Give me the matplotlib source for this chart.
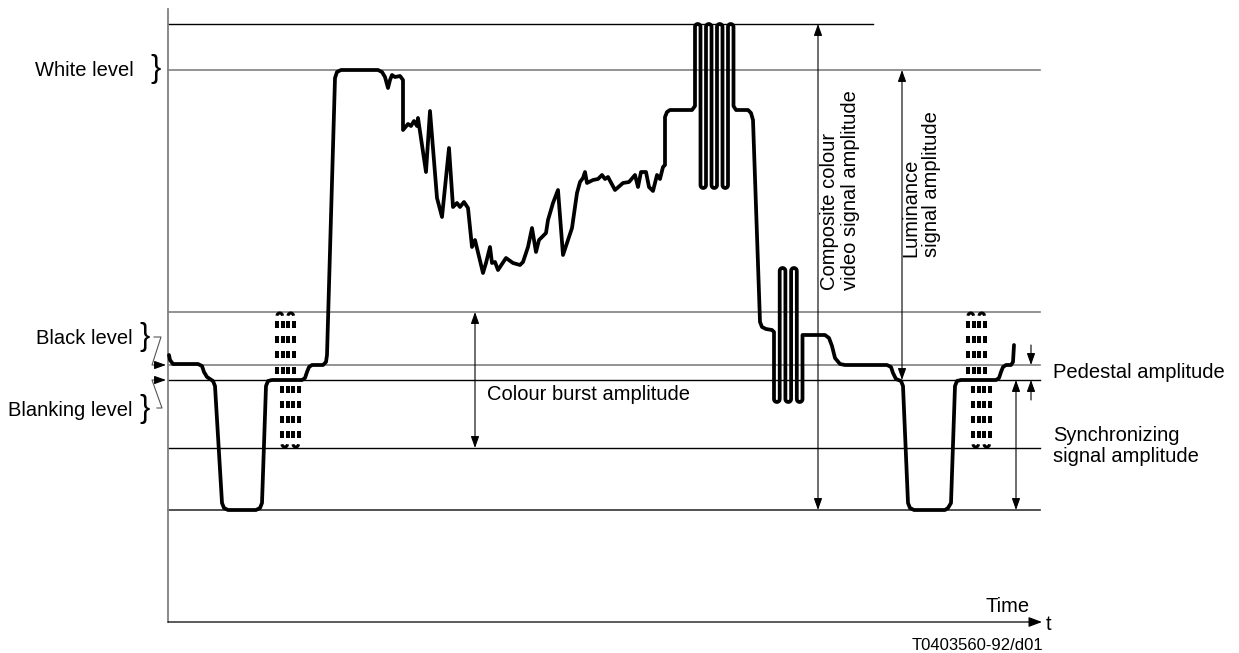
import numpy as np
import matplotlib.pyplot as plt

plt.rcParams['font.family'] = ['Liberation Sans', 'DejaVu Sans']

# signal levels (drawing units, y grows downward)
level_y = [24, 70, 312, 365, 380, 448, 510]
level_x_end = [873, 1040, 1040, 1040, 1040, 1040, 1040]
level_color = ['black', '#808080', '#808080', '#808080', 'black', 'black', '#333333']

# luminance trace: from line start up to the first chroma burst
seg1_t = [169, 170, 173, 198, 202, 204, 207, 213, 215, 222, 224, 228, 256, 260, 262, 266,
          268, 272, 302, 305, 307, 309, 312, 323, 326, 327, 335, 337, 341, 378, 382, 385,
          388, 390, 392, 395, 400, 403, 403, 408, 411, 414, 417, 418, 426, 430, 437, 442,
          449, 453, 457, 460, 464, 468, 472, 475, 483, 486, 490, 492, 495, 498, 506, 513,
          520, 523, 528, 532, 536, 539, 546, 548, 553, 558, 563, 572, 577, 580, 583, 585,
          587, 593, 598, 602, 605, 608, 615, 623, 629, 635, 638, 641, 646, 649, 653, 657,
          660, 663, 665, 665, 667, 670, 692]
seg1_v = [355, 360, 364, 364, 366, 372, 377, 381, 386, 503, 508, 510, 510, 508, 503, 386,
          381, 380, 380, 378, 372, 367, 365, 365, 362, 355, 78, 72, 70, 70, 72, 77,
          88, 80, 75, 77, 76, 80, 130, 124, 126, 121, 126, 118, 172, 111, 198, 217,
          148, 207, 203, 207, 202, 208, 247, 240, 273, 263, 247, 263, 262, 270, 258, 263,
          265, 262, 247, 228, 252, 240, 233, 220, 203, 190, 255, 228, 193, 182, 178, 172,
          183, 180, 179, 175, 179, 177, 190, 183, 182, 175, 187, 172, 172, 187, 191, 175,
          179, 167, 165, 117, 112, 110, 110]

# first chroma burst (legs of the hairpin oscillation)
burst1_legs = [695, 700.5, 706, 711.5, 717, 722.5, 728, 733.5]
burst1_ends = [24, 188]

seg2_t = [736, 748, 751, 753, 760, 762, 766, 772]
seg2_v = [110, 110, 113, 120, 322, 327, 329, 330]

burst2_legs = [774, 779.7, 785.4, 791.1, 796.8, 802.5]
burst2_ends = [402, 268]

seg3_t = [805, 825, 829, 832, 835, 840, 845, 887, 891, 893, 896, 901, 903, 908, 910, 914,
          945, 948, 951, 955, 957, 961, 996, 999, 1001, 1003, 1006, 1011, 1013, 1014]
seg3_v = [335, 335, 338, 346, 358, 364, 365, 365, 367, 373, 379, 381, 386, 503, 508, 510,
          510, 508, 503, 386, 381, 380, 380, 378, 372, 367, 365, 365, 362, 345]

# colour burst in the back porch (dashed)
cb_x0 = [275, 966]
cb_upper_dx = [2, 7.5, 13, 18.5]
cb_lower_dx = [7, 12.5, 18, 23.5]
cb_upper_rows = [324.5, 339.5, 354.5, 370.5]
cb_lower_rows = [389.5, 404.5, 419.5, 434.5]


def hairpin(legs, ends, y_start, y_end):
    xs, ys = [legs[0]], [y_start]
    for i in range(len(legs) - 1):
        e = ends[i % 2]
        other = ends[(i + 1) % 2]
        d = -1 if e < other else 1
        r = (legs[i + 1] - legs[i]) / 2
        cx = (legs[i] + legs[i + 1]) / 2
        cy = e - d * r
        th = np.linspace(np.pi, 0, 9)
        xs.extend(cx + r * np.cos(th))
        ys.extend(cy + d * r * np.sin(th))
    xs.append(legs[-1])
    ys.append(y_end)
    return xs, ys


def arc(ax, x_left, x_right, y_tip, up):
    r = (x_right - x_left) / 2
    cx = (x_left + x_right) / 2
    d = -1 if up else 1
    th = np.linspace(np.pi, 0, 9)
    ax.plot(cx + r * np.cos(th), y_tip - d * r + d * r * np.sin(th),
            color='black', lw=2.2, solid_capstyle='butt')


fig = plt.figure(figsize=(12.39, 6.53), dpi=100)
ax = fig.add_axes([0, 0, 1, 1])
ax.set_xlim(0, 1239)
ax.set_ylim(653, 0)
ax.axis('off')

# level lines
for y, xe, c in zip(level_y, level_x_end, level_color):
    ax.plot([168, xe], [y, y], color=c, lw=1.2 if c != 'black' else 1.0)

# axes
ax.plot([168, 168], [9, 622], color='#808080', lw=1.3)
ax.annotate('', xy=(1042, 622), xytext=(168, 622),
            arrowprops=dict(arrowstyle='-|>,head_length=0.8,head_width=0.3', color='black',
                            lw=0.9, shrinkA=0, shrinkB=0, mutation_scale=10))

# waveform
b1x, b1y = hairpin(burst1_legs, burst1_ends, 106, 106)
b2x, b2y = hairpin(burst2_legs, burst2_ends, 332, 335)
wave_t = list(seg1_t) + b1x + seg2_t + b2x + seg3_t
wave_v = list(seg1_v) + b1y + seg2_v + b2y + seg3_v
ax.plot(wave_t, wave_v, color='black', lw=2.7, solid_joinstyle='round', solid_capstyle='round')

# dashed colour bursts
for x0 in cb_x0:
    for rows, dxs in ((cb_upper_rows, cb_upper_dx), (cb_lower_rows, cb_lower_dx)):
        for row in rows:
            ax.vlines([x0 + dx for dx in dxs], row - 3.5, row + 3.5, color='black', lw=2.9)
    arc(ax, x0 + cb_upper_dx[0], x0 + cb_upper_dx[1], 313, True)
    arc(ax, x0 + cb_upper_dx[2], x0 + cb_upper_dx[3], 313, True)
    arc(ax, x0 + cb_lower_dx[0], x0 + cb_lower_dx[1], 447, False)
    arc(ax, x0 + cb_lower_dx[2], x0 + cb_lower_dx[3], 447, False)

# amplitude arrows
dbl = dict(arrowstyle='<|-|>,head_length=0.7,head_width=0.25', color='black', lw=0.8,
           shrinkA=0, shrinkB=0, mutation_scale=10)
sgl = dict(arrowstyle='-|>,head_length=0.7,head_width=0.25', color='black', lw=0.8,
           shrinkA=0, shrinkB=0, mutation_scale=10)
ax.annotate('', xy=(818, 24), xytext=(818, 510), arrowprops=dbl)
ax.annotate('', xy=(902, 70), xytext=(902, 380), arrowprops=dbl)
ax.annotate('', xy=(475, 312), xytext=(475, 448), arrowprops=dbl)
ax.annotate('', xy=(1016, 380), xytext=(1016, 510), arrowprops=dbl)
ax.annotate('', xy=(1031, 365), xytext=(1031, 345), arrowprops=sgl)
ax.annotate('', xy=(1031, 380), xytext=(1031, 400), arrowprops=sgl)

# left pointers
ax.plot([154, 161, 152, 156], [337, 337, 365, 365], color='#555555', lw=0.8)
ax.annotate('', xy=(166, 365), xytext=(155, 365), arrowprops=sgl)
ax.plot([157, 162, 152, 156], [408, 408, 380, 380], color='#555555', lw=0.8)
ax.annotate('', xy=(166, 380), xytext=(155, 380), arrowprops=sgl)

fs = 14.5
ax.text(35, 70, 'White level', ha='left', va='center', fontsize=fs)
ax.text(156, 69, '}', ha='center', va='center', fontsize=22)
ax.text(36, 338, 'Black level', ha='left', va='center', fontsize=fs)
ax.text(145, 337, '}', ha='center', va='center', fontsize=22)
ax.text(8, 410, 'Blanking level', ha='left', va='center', fontsize=fs)
ax.text(145, 409, '}', ha='center', va='center', fontsize=22)

ax.text(487, 395, 'Colour burst amplitude', ha='left', va='center', fontsize=fs)
ax.text(1053, 372, 'Pedestal amplitude', ha='left', va='center', fontsize=fs)
ax.text(1053, 446, 'Synchronizing\nsignal amplitude', ha='left', va='center',
        fontsize=fs, linespacing=1.1)
ax.text(840, 290, 'Composite colour\nvideo signal amplitude', rotation=90, ha='center',
        va='bottom', multialignment='left', fontsize=fs, linespacing=1.1)
ax.text(921, 257, 'Luminance\nsignal amplitude', rotation=90, ha='center',
        va='bottom', multialignment='left', fontsize=fs, linespacing=1.1)

ax.text(1008, 606, 'Time', ha='center', va='center', fontsize=fs)
ax.text(1046, 624, 't', ha='left', va='center', fontsize=fs)
ax.text(1043, 646, 'T0403560-92/d01', ha='right', va='center', fontsize=12)

fig.savefig('out.png', dpi=100)
